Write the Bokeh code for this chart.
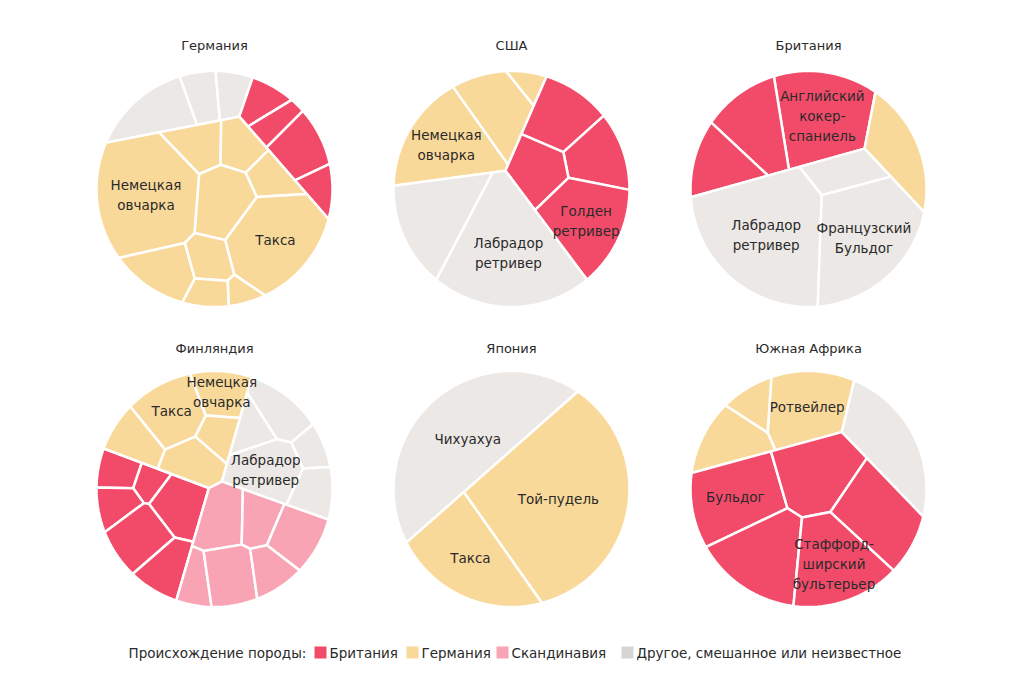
import numpy as np
from bokeh.plotting import figure
from bokeh.models import Range1d, ColumnDataSource
from bokeh.embed import file_html
from bokeh.resources import INLINE
from bokeh.core.properties import value

# ---------------- data ----------------
GROUPS = ["Британия", "Германия", "Скандинавия", "Другое, смешанное или неизвестное"]
B, G, S, O = GROUPS
GROUP_COLORS = {B: "#F24B6A", G: "#F9D999", S: "#F9A4B4", O: "#EBE8E5"}
LEGEND_COLORS = ["#F24B6A", "#F9D999", "#F9A4B4", "#D5D5D5"]
LEGEND_TITLE = "Происхождение породы:"

COUNTRY_NAMES = ["Германия", "США", "Британия", "Финляндия", "Япония", "Южная Африка"]

# Germany
DE_GROUP = [O, O, O, B, B, B, B, G, G, G, G, G, G, G, G, G, G]
DE_SHARE = [7, 3.5, 3, 3, 2.5, 5.5, 2.5, 23, 4.5, 4, 7.5, 3.5, 16, 6, 4, 2.5, 1.5]
DE_LABEL = ["", "", "", "", "", "", "", "Немецкая\nовчарка", "", "", "", "", "Такса", "", "", "", ""]
DE_HINT = [(-0.49, 0.69), (-0.08, 0.79), (0.15, 0.79), (0.46, 0.77), (0.50, 0.54), (0.71, 0.38),
           (0.88, -0.04), (-0.55, -0.04), (-0.21, 0.38), (0.20, 0.41), (0.14, -0.04), (0.55, 0.09),
           (0.54, -0.47), (-0.52, -0.73), (-0.06, -0.56), (-0.05, -0.89), (0.26, -0.89)]

# USA
US_GROUP = [G, G, G, B, B, B, B, O, O]
US_SHARE = [15, 9, 1.5, 8, 7, 6.5, 13, 13, 26]
US_LABEL = ["Немецкая\nовчарка", "", "", "", "", "", "Голден\nретривер", "", "Лабрадор\nретривер"]
US_HINT = [(-0.59, 0.41), (-0.11, 0.73), (0.16, 0.90), (0.44, 0.67), (0.74, 0.32), (0.27, 0.16),
           (0.61, -0.25), (-0.71, -0.25), (-0.05, -0.59)]

# Britain
UK_GROUP = [B, B, B, G, O, O, O]
UK_SHARE = [17, 10, 7, 8, 5.5, 30, 22]
UK_LABEL = ["Английский\nкокер-\nспаниель", "", "", "", "", "Лабрадор\nретривер", "Французский\nБульдог"]
UK_HINT = [(0.17, 0.58), (-0.54, 0.56), (-0.71, 0.24), (0.77, 0.32), (0.58, 0.08), (-0.39, -0.42),
           (0.43, -0.46)]

# Finland
FI_GROUP = [B] * 6 + [S] * 6 + [G] * 5 + [O] * 5
FI_SHARE = [3, 2, 5.5, 3, 6, 4.5,
            6, 4, 5.5, 3, 6, 3.5,
            8, 5, 4.5, 3, 5,
            3, 5, 2.5, 8, 4]
FI_LABEL = [""] * 12 + ["Такса", "Немецкая\nовчарка", "", "", ""] + ["", "", "", "Лабрадор\nретривер", ""]
FI_HINT = [(-0.86, 0.08), (-0.69, -0.01), (-0.36, -0.10), (-0.85, -0.32), (-0.46, -0.40), (-0.55, -0.70),
           (0.03, -0.27), (0.35, -0.28), (0.71, -0.48), (-0.23, -0.71), (0.07, -0.75), (0.45, -0.74),
           (-0.42, 0.63), (0.01, 0.76), (-0.72, 0.38), (-0.01, 0.46), (-0.18, 0.18),
           (0.33, 0.55), (0.61, 0.67), (0.84, 0.31), (0.41, 0.10), (0.79, -0.11)]

# Japan
JP_GROUP = [O, G, G]
JP_SHARE = [34, 48, 18]
JP_LABEL = ["Чихуахуа", "Той-пудель", "Такса"]
JP_HINT = [(-0.37, 0.42), (0.41, -0.07), (-0.39, -0.61)]

# South Africa
ZA_GROUP = [G, G, G, O, B, B, B, B, B]
ZA_SHARE = [12, 7, 3, 13, 14, 12, 12, 13, 14]
ZA_LABEL = ["Ротвейлер", "", "", "", "Бульдог", "", "", "", "Стаффорд-\nширский\nбультерьер"]
ZA_HINT = [(-0.03, 0.63), (-0.71, 0.44), (-0.52, 0.80), (0.72, 0.32), (-0.58, -0.09), (0.10, 0.12),
           (0.60, -0.22), (-0.41, -0.65), (0.29, -0.65)]

COUNTRIES = [
    (DE_GROUP, DE_SHARE, DE_LABEL, DE_HINT),
    (US_GROUP, US_SHARE, US_LABEL, US_HINT),
    (UK_GROUP, UK_SHARE, UK_LABEL, UK_HINT),
    (FI_GROUP, FI_SHARE, FI_LABEL, FI_HINT),
    (JP_GROUP, JP_SHARE, JP_LABEL, JP_HINT),
    (ZA_GROUP, ZA_SHARE, ZA_LABEL, ZA_HINT),
]

# ---------------- layout ----------------
COL_X = [214, 511, 808]
ROW_Y = [188.5, 488.5]
TITLE_Y = [45, 348]
RADIUS = 118
FONT = "DejaVu Sans"
TEXT_COLOR = "#2A2A2A"
LABEL_SIZE = "13.5px"
TITLE_SIZE = "13px"


# ---------------- voronoi treemap (power diagram) ----------------
def circle_poly(cx, cy, r, n=160):
    t = np.linspace(0, 2 * np.pi, n, endpoint=False)
    return np.column_stack([cx + r * np.cos(t), cy + r * np.sin(t)])


def clip(P, a, b):
    if len(P) == 0:
        return P
    f = P @ a - b
    Q = np.roll(P, -1, axis=0)
    fq = np.roll(f, -1)
    inside = f <= 0
    cross = ((f < 0) & (fq > 0)) | ((f > 0) & (fq < 0))
    denom = f - fq
    denom = np.where(denom == 0, 1e-12, denom)
    t = f / denom
    I = P + t[:, None] * (Q - P)
    pts = np.stack([P, I], axis=1).reshape(-1, 2)
    mask = np.stack([inside, cross], axis=1).reshape(-1)
    return pts[mask]


def area_centroid(P):
    if len(P) < 3:
        return 0.0, None
    x, y = P[:, 0], P[:, 1]
    x1, y1 = np.roll(x, -1), np.roll(y, -1)
    c = x * y1 - x1 * y
    A = c.sum() / 2
    if abs(A) < 1e-9:
        return 0.0, None
    return abs(A), np.array([((x + x1) * c).sum() / (6 * A), ((y + y1) * c).sum() / (6 * A)])


def power_cells(region, Sp, W):
    n = len(Sp)
    cells = []
    for i in range(n):
        P = region
        for j in range(n):
            if j == i:
                continue
            a = 2 * (Sp[j] - Sp[i])
            if abs(a[0]) + abs(a[1]) < 1e-9:
                continue
            b = Sp[j] @ Sp[j] - Sp[i] @ Sp[i] + W[i] - W[j]
            P = clip(P, a, b)
            if len(P) == 0:
                break
        cells.append(P)
    return cells


def inside_convex(P, pt):
    Q = np.roll(P, -1, axis=0)
    cr = (Q[:, 0] - P[:, 0]) * (pt[1] - P[:, 1]) - (Q[:, 1] - P[:, 1]) * (pt[0] - P[:, 0])
    return bool(np.all(cr >= 0) or np.all(cr <= 0))


def fix_overweight(Sp, W):
    n = len(Sp)
    for _ in range(50):
        fixed = False
        for i in range(n):
            for j in range(i + 1, n):
                bi, li = (i, j) if W[i] > W[j] else (j, i)
                d2 = ((Sp[bi] - Sp[li]) ** 2).sum()
                over = W[bi] - W[li] - d2
                if over > 0:
                    W[li] += over + 1e-6
                    fixed = True
        if not fixed:
            break


def treemap(region, seeds, shares, max_iter=500, tol=0.006):
    n = len(seeds)
    if n == 1:
        return [region]
    A, cen = area_centroid(region)
    targets = np.asarray(shares, float) / float(np.sum(shares)) * A
    Sp = np.array(seeds, float)
    for k in range(n):
        for _ in range(40):
            if inside_convex(region, Sp[k]):
                break
            Sp[k] = cen + 0.75 * (Sp[k] - cen)
    W = np.full(n, A / n * 0.5)
    for it in range(max_iter):
        cells = power_cells(region, Sp, W)
        for k, c in enumerate(cells):
            a, ct = area_centroid(c)
            if ct is not None:
                Sp[k] = ct
        fix_overweight(Sp, W)
        cells = power_cells(region, Sp, W)
        areas = np.array([area_centroid(c)[0] for c in cells])
        err = np.abs(areas - targets).sum() / A / 2
        if err < tol:
            break
        for k in range(n):
            ratio = targets[k] / areas[k] if areas[k] > 0 else 1.2
            ratio = min(max(ratio, 0.88), 1.12)
            W[k] = max(W[k] * ratio, 1e-6)
        fix_overweight(Sp, W)
    return power_cells(region, Sp, W)


# ---------------- compute cells ----------------
xs, ys, fills = [], [], []
lx, ly, lt = [], [], []
for ci, (grp, share, label, hint) in enumerate(COUNTRIES):
    cx = COL_X[ci % 3]
    cy = ROW_Y[ci // 3]
    region = circle_poly(cx, cy, RADIUS)
    pts = [np.array([cx + hx * RADIUS, cy - hy * RADIUS]) for hx, hy in hint]
    order = []
    for g in grp:
        if g not in order:
            order.append(g)
    gseeds, gshares, members = [], [], []
    for g in order:
        idx = [k for k in range(len(grp)) if grp[k] == g]
        wsum = sum(share[k] for k in idx)
        gseeds.append(sum(pts[k] * share[k] for k in idx) / wsum)
        gshares.append(wsum)
        members.append(idx)
    gcells = treemap(region, gseeds, gshares)
    for g, gcell, idx in zip(order, gcells, members):
        sub = treemap(gcell, [pts[k] for k in idx], [share[k] for k in idx])
        for k, c in zip(idx, sub):
            if len(c) < 3:
                continue
            xs.append(list(c[:, 0]))
            ys.append(list(c[:, 1]))
            fills.append(GROUP_COLORS[g])
            if label[k]:
                _, ct = area_centroid(c)
                lx.append(ct[0])
                ly.append(ct[1])
                lt.append(label[k])

# ---------------- draw ----------------
p = figure(width=1008, height=666, x_range=Range1d(0, 1008), y_range=Range1d(666, 0),
           output_backend="svg", toolbar_location=None, min_border=0,
           x_axis_location=None, y_axis_location=None)
p.grid.visible = False
p.outline_line_color = None
p.background_fill_color = "white"
p.border_fill_color = "white"

p.patches(xs="xs", ys="ys", fill_color="fill", line_color="white", line_width=2.5,
          source=ColumnDataSource(dict(xs=xs, ys=ys, fill=fills)))

p.text(x=lx, y=ly, text=lt, text_align="center", text_baseline="middle",
       text_font=value(FONT), text_font_size=LABEL_SIZE, text_color=TEXT_COLOR, text_line_height=1.25)

tx = [COL_X[i % 3] for i in range(6)]
ty = [TITLE_Y[i // 3] for i in range(6)]
p.text(x=tx, y=ty, text=COUNTRY_NAMES, text_align="center", text_baseline="middle",
       text_font=value(FONT), text_font_size=TITLE_SIZE, text_color=TEXT_COLOR)

# legend
LEG_Y = 652
LEG_SWATCH_X = [314, 406, 496, 621]
p.text(x=[128], y=[LEG_Y], text=[LEGEND_TITLE], text_align="left", text_baseline="middle",
       text_font=value(FONT), text_font_size=LABEL_SIZE, text_color=TEXT_COLOR)
p.rect(x=[x0 + 6 for x0 in LEG_SWATCH_X], y=[LEG_Y] * 4, width=12, height=12,
       fill_color=LEGEND_COLORS, line_color=None)
p.text(x=[x0 + 15 for x0 in LEG_SWATCH_X], y=[LEG_Y] * 4, text=GROUPS, text_align="left",
       text_baseline="middle", text_font=value(FONT), text_font_size=LABEL_SIZE, text_color=TEXT_COLOR)

open("out.html", "w").write(file_html(p, INLINE))
